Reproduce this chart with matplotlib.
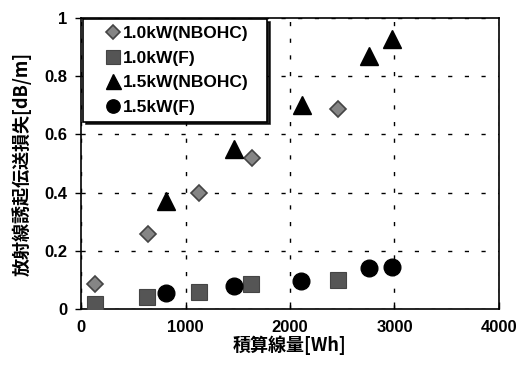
import numpy as np
import matplotlib.pyplot as plt

plt.rcParams['font.family'] = ['Liberation Sans', 'Noto Sans CJK JP', 'DejaVu Sans']
plt.rcParams['font.weight'] = 'bold'

# 1.0kW (NBOHC)
x_10_nbohc = [130, 640, 1130, 1636, 2455]
y_10_nbohc = [0.088, 0.26, 0.40, 0.52, 0.688]
# 1.0kW (F)
x_10_f = [130, 630, 1130, 1630, 2455]
y_10_f = [0.019, 0.041, 0.059, 0.087, 0.10]
# 1.5kW (NBOHC)
x_15_nbohc = [815, 1462, 2114, 2757, 2980]
y_15_nbohc = [0.37, 0.55, 0.70, 0.87, 0.927]
# 1.5kW (F)
x_15_f = [815, 1464, 2110, 2755, 2978]
y_15_f = [0.056, 0.079, 0.096, 0.142, 0.145]

fig = plt.figure(figsize=(5.23, 3.67), dpi=100)
ax = fig.add_axes([0.155, 0.157, 0.799, 0.795])

ax.plot(x_10_nbohc, y_10_nbohc, 'D', ms=8.5, color='#858585', mec='#444444', mew=1.2,
        label='1.0kW(NBOHC)', zorder=3)
ax.plot(x_10_f, y_10_f, 's', ms=12, color='#555555', mec='#444444', mew=0.8,
        label='1.0kW(F)', zorder=3)
ax.plot(x_15_nbohc, y_15_nbohc, '^', ms=13.5, color='black', label='1.5kW(NBOHC)', zorder=3)
ax.plot(x_15_f, y_15_f, 'o', ms=12, color='black', label='1.5kW(F)', zorder=3)

ax.set_xlim(0, 4000)
ax.set_ylim(0, 1)
ax.set_xticks([0, 1000, 2000, 3000, 4000])
ax.set_yticks([0, 0.2, 0.4, 0.6, 0.8, 1])
ax.set_yticklabels(['0', '0.2', '0.4', '0.6', '0.8', '1'])
ax.tick_params(axis='x', direction='in', length=5, width=1, labelsize=12, pad=8)
ax.tick_params(axis='y', direction='out', length=4, width=1, labelsize=12, pad=6)
for s in ax.spines.values():
    s.set_linewidth(1.2)

ax.grid(True, color='black', linestyle=(0, (3, 9)), linewidth=1)

ax.set_xlabel('積算線量[Wh]', fontsize=13, fontweight='bold', labelpad=0,
              family=['Noto Sans CJK JP', 'Liberation Sans'])
ax.set_ylabel('放射線誘起伝送損失[dB/m]', fontsize=13, fontweight='bold', labelpad=9,
              family=['Noto Sans CJK JP', 'Liberation Sans'])

# legend box stretched to the reference width, shadow drawn dark
leg = ax.legend(loc='upper left', bbox_to_anchor=(0.005, 0.0, 0.44, 0.995), mode='expand',
                fontsize=12.5, frameon=True, fancybox=False,
                shadow={'color': 'black', 'alpha': 0.85, 'ox': 2, 'oy': -2},
                edgecolor='black', framealpha=1,
                handlelength=2.65, handletextpad=-0.75, borderpad=0.4, labelspacing=0.54,
                borderaxespad=0, markerscale=0.8)
leg.get_frame().set_linewidth(1.2)

fig.savefig('out.png', dpi=100)
